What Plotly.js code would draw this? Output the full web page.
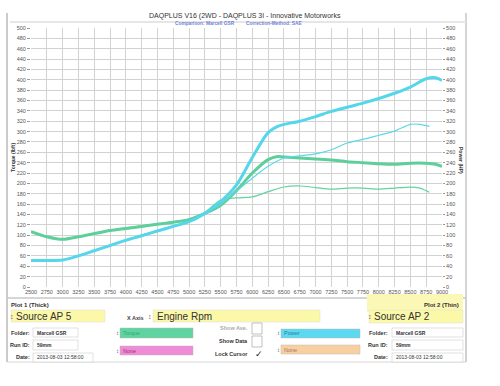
<!DOCTYPE html>
<html><head><meta charset="utf-8">
<script src="https://cdn.plot.ly/plotly-3.0.1.min.js"></script>
<style>html,body{margin:0;padding:0;background:#fff;}#c{width:500px;height:386px;}</style>
</head><body><div id="c"></div>
<script>
const rpmThick = [2500,2750,3000,3250,3500,3750,4000,4250,4500,4750,5000,5250,5500,5750,6000,6250,6400,6500,6750,7000,7250,7500,7750,8000,8250,8500,8750,8900,9000];
const torqueThick = [107,97,92,97,103,109,113,117,121,125,130,142,158,186,220,246,252,251,249,247,245,242,240,238,237,239,239,237,233];
const powerThick = [51,51,52,60,70,80,90,99,108,117,126,142,165,197,250,298,310,314,320,329,339,347,355,364,374,386,402,404,399];
const rpmThin = [2500,2750,3000,3250,3500,3750,4000,4250,4500,4750,5000,5250,5500,5750,6000,6250,6500,6750,7000,7250,7500,7750,8000,8250,8500,8650,8800];
const torqueThin = [106,97,92,97,104,110,114,118,122,126,131,144,168,172,174,184,193,195,192,189,191,191,189,191,193,191,183];
const powerThin = [51,51,52,61,71,81,91,100,109,118,127,142,160,185,210,233,249,253,257,265,278,285,293,301,314,314,310];
const xTicks = [2500,2750,3000,3250,3500,3750,4000,4250,4500,4750,5000,5250,5500,5750,6000,6250,6500,6750,7000,7250,7500,7750,8000,8250,8500,8750,9000];

const X0=31, X1=442, Y0=287, Y1=28;
const fx=p=>(p-X0)/(X1-X0);
const fy=p=>(Y0-p)/(Y0-Y1);
const F='Liberation Sans, Arial, sans-serif';
const shapes=[], ann=[];
function rect(x0,y0,x1,y1,fill,lc,lw){shapes.push({type:'rect',xref:'paper',yref:'paper',x0:fx(x0),x1:fx(x1),y0:fy(y1),y1:fy(y0),fillcolor:fill,line:{color:lc||'rgba(0,0,0,0)',width:lw===undefined?0.8:lw},layer:'above'});}
function line(x0,y0,x1,y1,c,w){shapes.push({type:'line',xref:'paper',yref:'paper',x0:fx(x0),x1:fx(x1),y0:fy(y0),y1:fy(y1),line:{color:c,width:w||1}});}
function txt(x,y,t,s,c,a,ang){ann.push({xref:'paper',yref:'paper',x:fx(x),y:fy(y),text:t,showarrow:false,xanchor:a||'left',yanchor:'middle',textangle:ang||0,font:{size:s,color:c||'#333',family:F}});}

// frame
line(7,13,7,362,'#999',1);
line(466,13,466,362,'#aaa',1);
line(10,22,466,22,'#e6e6e6',2);
// titles
txt(245,16,'DAQPLUS V16 (2WD - DAQPLUS 3I - Innovative Motorworks',7,'#333','center');
txt(205,23,'<b>Comparison: Marcell GSR</b>',4.8,'#7283d6','center');
txt(274,23,'<b>Correction-Method: SAE</b>',4.8,'#7283d6','center');
txt(13,158,'<b>Torque (lbft)</b>',5,'#333','center',-90);
txt(461,160,'<b>Power (HP)</b>',5,'#333','center',90);

// bottom panel
line(7,298,466,298,'#bbb',1);
rect(7,298,466,362,'rgba(0,0,0,0)','#ccc',0.8);
rect(367,294,463,312,'#fbf7b4','rgba(0,0,0,0)',0);
txt(9,305,'<b>Plot 1 (Thick)</b>',6,'#333','left');
txt(461,305,'<b>Plot 2 (Thin)</b>',6,'#333','right');
rect(11,310,105,322,'#fbf8a8','#ddd',0.5);
txt(8,316,'↕',7,'#555','left');
txt(14,316.5,'Source AP 5',10,'#333','left');
txt(125,318,'<b>X Axis</b>',5.5,'#444','left');
rect(153,310,320,322,'#fbf8a8','#ddd',0.5);
txt(146,316,'↕',7,'#555','left');
txt(155,316.5,'Engine Rpm',10,'#333','left');
rect(369,310,463,323,'#fbf8a8','#ddd',0.5);
txt(366,316,'↕',7,'#555','left');
txt(372,316.5,'Source AP 2',10,'#333','left');
// left details
txt(32,333,'<b>Folder:</b>',5.5,'#333','right');
rect(33,328,78,337,'#fff','#ccc',0.6);
txt(35,332.5,'<b>Marcell GSR</b>',5,'#333','left');
txt(32,345,'<b>Run ID:</b>',5.5,'#333','right');
rect(33,340,78,350,'#fff','#ccc',0.6);
txt(35,344.5,'<b>59mm</b>',5,'#333','left');
txt(32,357,'<b>Date:</b>',5.5,'#333','right');
rect(33,353,93,362,'#fff','#ccc',0.6);
txt(35,357,'2013-08-03 12:58:00',5,'#333','left');
// selectors
rect(120,328,193,338,'#5fd3a0','#bbb',0.5);
txt(114,333,'↕',6,'#555','left');
txt(121,333,'Torque',5.5,'#3a7','left');
rect(120,346,193,355,'#f08bd8','#bbb',0.5);
txt(114,350.5,'↕',6,'#555','left');
txt(121,350.5,'None',5.5,'#a36','left');
txt(250,328,'<b>Show Ave.</b>',5.5,'#aaa','right');
txt(250,341,'<b>Show Data</b>',5.5,'#333','right');
txt(250,354,'<b>Lock Cursor</b>',5.5,'#333','right');
rect(252,323,262,334,'#fff','#999',0.6);
rect(252,336,262,347,'#fff','#999',0.6);
txt(253,354,'✓',9,'#222','left');
rect(281,329,360,338,'#5cd9f0','#bbb',0.5);
txt(275,333,'↕',6,'#555','left');
txt(282,333,'Power',5.5,'#2a7fa5','left');
rect(281,345,360,354,'#f7cfa0','#bbb',0.5);
txt(275,349.5,'↕',6,'#555','left');
txt(282,349.5,'None',5.5,'#a76','left');
// right details
txt(390,333,'<b>Folder:</b>',5.5,'#333','right');
rect(392,328,463,337,'#fff','#ccc',0.6);
txt(394,332.5,'<b>Marcell GSR</b>',5,'#333','left');
txt(390,345,'<b>Run ID:</b>',5.5,'#333','right');
rect(392,340,463,350,'#fff','#ccc',0.6);
txt(394,344.5,'<b>59mm</b>',5,'#333','left');
txt(390,357,'<b>Date:</b>',5.5,'#333','right');
rect(392,353,463,362,'#fff','#ccc',0.6);
txt(394,357,'2013-08-03 12:58:00',5,'#333','left');

const sp={shape:'spline',smoothing:0.8};
const traces=[
 {x:rpmThin,y:torqueThin,mode:'lines',line:Object.assign({color:'#62d3a2',width:1.2},sp),yaxis:'y'},
 {x:rpmThin,y:powerThin,mode:'lines',line:Object.assign({color:'#5cd8e8',width:1.2},sp),yaxis:'y2'},
 {x:rpmThick,y:torqueThick,mode:'lines',line:Object.assign({color:'#5ccf9b',width:3},sp),yaxis:'y'},
 {x:rpmThick,y:powerThick,mode:'lines',line:Object.assign({color:'#55d6ea',width:3},sp),yaxis:'y2'}
];
const tf={size:5.5,color:'#555',family:F};
const layout={
 width:500,height:386,margin:{l:X0,r:500-X1,t:Y1,b:386-Y0,pad:0},
 paper_bgcolor:'#fff',plot_bgcolor:'#fff',showlegend:false,
 xaxis:{range:[2500,9000],tickvals:xTicks,ticktext:xTicks.map(String),tickangle:0,tickfont:tf,showgrid:true,gridcolor:'#d2d2d2',gridwidth:1,zeroline:false,showline:false,ticks:'',ticklabelstandoff:0},
 yaxis:{range:[0,500],dtick:20,tick0:0,tickfont:tf,showgrid:true,gridcolor:'#d2d2d2',gridwidth:1,zeroline:false,ticks:'outside',ticklen:3,tickcolor:'#999',showline:false},
 yaxis2:{range:[0,500],dtick:20,tick0:0,tickfont:tf,overlaying:'y',side:'right',showgrid:false,zeroline:false,ticks:'outside',ticklen:2,tickcolor:'#999'},
 shapes:shapes,annotations:ann
};
Plotly.newPlot('c',traces,layout,{displayModeBar:false,staticPlot:true});
</script></body></html>
